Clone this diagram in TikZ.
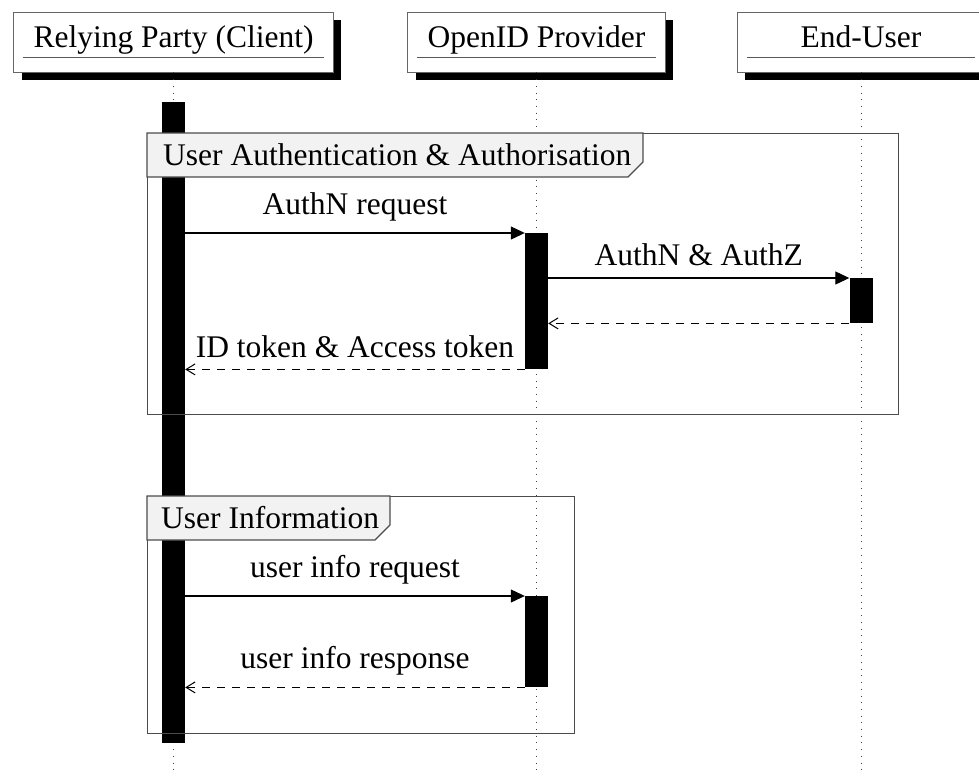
\documentclass[tikz,border=0pt]{standalone}
\usepackage{fontspec}
\setmainfont{Liberation Serif}
\usetikzlibrary{arrows.meta,shadows}
\begin{document}
\begin{tikzpicture}[x=1pt,y=-1pt,
  font=\fontsize{31.5}{38}\selectfont,
  hdr/.style={draw=black!60, line width=0.8pt, fill=white,
    minimum width=248pt, minimum height=60pt, inner xsep=20pt, inner ysep=0pt,
    text height=20pt, text depth=10pt,
    drop shadow={shadow xshift=8pt, shadow yshift=-8pt, opacity=1, fill=black}},
  uline/.style={draw=black!65, line width=1.3pt},
  lifeline/.style={draw=black!75, line width=1pt, dash pattern=on 1pt off 5.7pt},
  actbar/.style={fill=black, draw=none, minimum width=23pt, inner sep=0pt, anchor=north},
  frm/.style={draw=black!70, line width=1.2pt, inner sep=0pt, anchor=north west},
  frmlbl/.style={draw=black!70, line width=1.2pt, fill=black!5},
  frmtxt/.style={anchor=base west, inner sep=0pt},
  call/.style={line width=1.1pt, -{Triangle[length=14pt,width=13pt]}},
  reply/.style={line width=1pt, dash pattern=on 8pt off 7pt,
    -{Straight Barb[length=9pt,width=11pt,line width=1pt]}},
  msg/.style={midway, above=11.5pt, inner sep=0pt}
]
\useasboundingbox (0,0) rectangle (979,774);

% participants
\node[hdr] (rp) at (173.5,42) {Relying Party (Client)};
\node[hdr] (op) at (536.5,42) {OpenID Provider};
\node[hdr] (eu) at (861,42) {End-User};
\foreach \p in {rp,op,eu}
  \draw[uline] ([shift={(10pt,15pt)}]\p.south west) -- ([shift={(-10pt,15pt)}]\p.south east);

% lifelines
\coordinate (rpend) at (173.5,774);
\coordinate (opend) at (536.5,774);
\coordinate (euend) at (861,774);
\draw[lifeline] (rp.south) -- (rpend);
\draw[lifeline] (op.south) -- (opend);
\draw[lifeline] (eu.south) -- (euend);

% activations
\node[actbar, minimum height=641pt] (rpbar) at (173.5,102) {};
\node[actbar, minimum height=136pt] (opbar1) at (536.5,233) {};
\node[actbar, minimum height=45pt] (eubar) at (861,278) {};
\node[actbar, minimum height=91pt] (opbar2) at (536.5,596) {};

% combined fragments
\node[frm, minimum width=751pt, minimum height=281pt] (f1) at (147,133) {};
\draw[frmlbl] (f1.north west) -- ++(496,0) -- ++(0,29) -- ++(-15,15) -- ++(-481,0) -- cycle;
\node[frmtxt] (f1t) at (163,165) {User Authentication \& Authorisation};

\node[frm, minimum width=427pt, minimum height=237pt] (f2) at (147,496) {};
\draw[frmlbl] (f2.north west) -- ++(243,0) -- ++(0,29) -- ++(-15,15) -- ++(-228,0) -- cycle;
\node[frmtxt] (f2t) at (161,528) {User Information};

% messages
\draw[call] (rpbar.east |- opbar1.north) -- (opbar1.north west) node[msg] {AuthN request};
\draw[call] (opbar1.east |- eubar.north) -- (eubar.north west) node[msg] {AuthN \& AuthZ};
\draw[reply] (eubar.south west) -- (opbar1.east |- eubar.south);
\draw[reply] (opbar1.south west) -- (rpbar.east |- opbar1.south) node[msg] {ID token \& Access token};
\draw[call] (rpbar.east |- opbar2.north) -- (opbar2.north west) node[msg] {user info request};
\draw[reply] (opbar2.south west) -- (rpbar.east |- opbar2.south) node[msg] {user info response};
\end{tikzpicture}
\end{document}
